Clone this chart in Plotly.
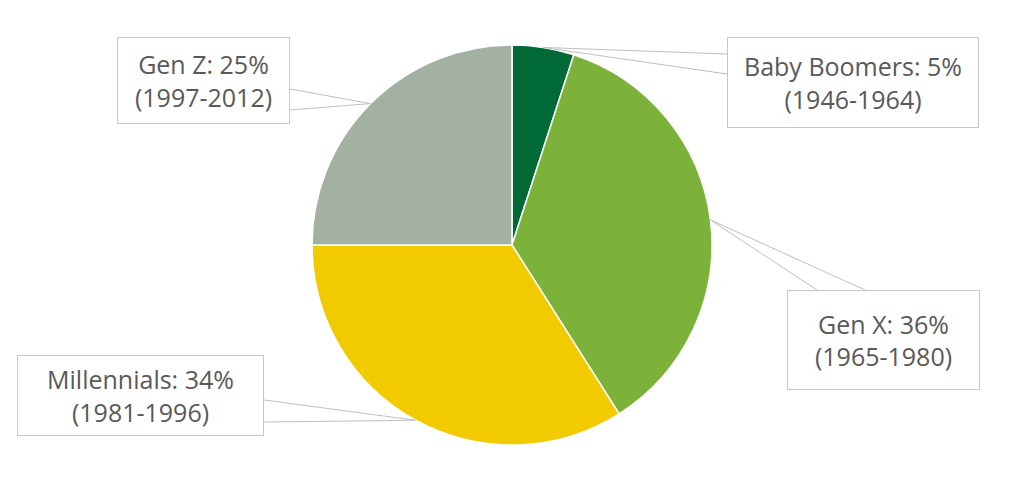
import math
import plotly.graph_objects as go

# data
generations = ["Baby Boomers", "Gen X", "Millennials", "Gen Z"]
shares = [5, 36, 34, 25]
year_ranges = ["1946-1964", "1965-1980", "1981-1996", "1997-2012"]
colors = ["#006A37", "#7DB23A", "#F2CA00", "#A2B1A2"]

OFF = 8  # page body margin
W, H = 1024 - OFF, 491 - OFF
cx, cy, r = 512, 245, 200  # pie centre / radius in screen px

# callout boxes (px): x0, y0, x1, y1 and where the wedge meets the box
boxes = [
    (727, 37, 979, 128, [(727, 54), (727, 74)]),
    (787, 290, 980, 390, [(817, 290), (865, 290)]),
    (17, 355, 264, 436, [(264, 400), (264, 422)]),
    (117, 37, 290, 124, [(290, 89), (290, 110)]),
]


def px(x):
    return (x - OFF) / W


def py(y):
    return 1 - (y - OFF) / H


fig = go.Figure(go.Pie(
    labels=generations,
    values=shares,
    sort=False,
    direction="clockwise",
    rotation=0,
    marker=dict(colors=colors, line=dict(color="white", width=1.5)),
    textinfo="none",
    hoverinfo="label+percent",
    domain=dict(x=[px(cx - r), px(cx + r)], y=[py(cy + r), py(cy - r)]),
))

shapes = []
annotations = []
total = sum(shares)
cum = 0
for name, val, yrs, box in zip(generations, shares, year_ranges, boxes):
    mid = (cum + val / 2) / total * 2 * math.pi
    cum += val
    tx = cx + r * math.sin(mid)
    ty = cy - r * math.cos(mid)
    x0, y0, x1, y1, base = box
    for bx, by in base:
        shapes.append(dict(type="line", xref="paper", yref="paper",
                           x0=px(tx), y0=py(ty), x1=px(bx), y1=py(by),
                           line=dict(color="#BFBFBF", width=1)))
    annotations.append(dict(
        xref="paper", yref="paper",
        x=px((x0 + x1) / 2), y=py((y0 + y1) / 2),
        xanchor="center", yanchor="middle",
        text=f"{name}: {val}%<br>({yrs})",
        showarrow=False, align="center",
        width=x1 - x0 - 2, height=y1 - y0 - 2,
        borderpad=0, bordercolor="#C8C8C8", borderwidth=1,
        bgcolor="white",
        font=dict(family="Open Sans", size=25, color="#595959"),
    ))

fig.update_layout(
    width=W, height=H,
    margin=dict(l=0, r=0, t=0, b=0),
    paper_bgcolor="white",
    showlegend=False,
    shapes=shapes,
    annotations=annotations,
)

fig.write_html("out.html")
